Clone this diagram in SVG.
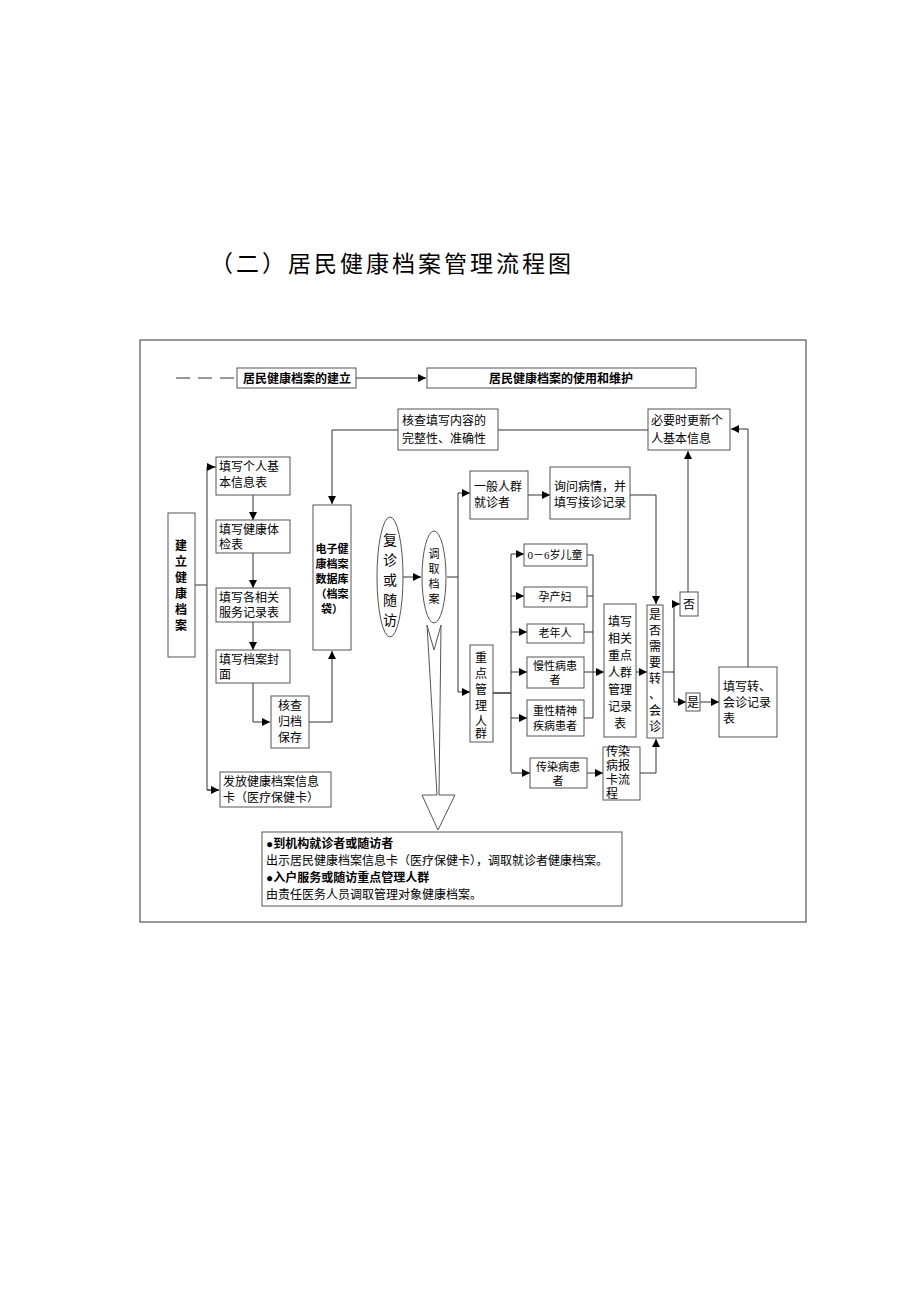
<svg xmlns="http://www.w3.org/2000/svg" width="920" height="1302" viewBox="0 0 920 1302">
<style>
text{font-family:"Liberation Serif","Noto Sans CJK SC",serif;font-size:12px;fill:#000}
.b{font-weight:bold;font-family:"Liberation Sans","Noto Sans CJK SC",sans-serif}
.s{font-size:11px}
rect,ellipse,polygon{fill:#fff;stroke:#555;stroke-width:1}
#c line,#c polyline{stroke:#333;stroke-width:1;fill:none}
</style>
<defs><marker id="a" markerWidth="8" markerHeight="8" refX="8" refY="4" orient="auto" markerUnits="userSpaceOnUse"><path d="M0,0L8,4L0,8Z" fill="#000"/></marker></defs>
<rect width="920" height="1302" style="fill:#fff;stroke:none"/>
<text x="210" y="272" style="font-size:23px;letter-spacing:3px">（二）居民健康档案管理流程图</text>
<rect x="140" y="340" width="666" height="582" style="stroke:#333"/>
<g id="c">
<line x1="176" y1="378" x2="236" y2="378" style="stroke-dasharray:14,8"/>
<line x1="356" y1="378" x2="426" y2="378" marker-end="url(#a)"/>
<polyline points="398,430 332,430 332,504" marker-end="url(#a)"/>
<line x1="498" y1="430" x2="648" y2="430"/>
<polyline points="748,667 748,429 731,429" marker-end="url(#a)"/>
<polyline points="195,585 207,585"/>
<polyline points="216,467 207,467 207,790 219,790"/>
<line x1="207" y1="467" x2="215" y2="467" marker-end="url(#a)"/>
<line x1="207" y1="790" x2="219" y2="790" marker-end="url(#a)"/>
<line x1="253" y1="495" x2="253" y2="520" marker-end="url(#a)"/>
<line x1="253" y1="553" x2="253" y2="588" marker-end="url(#a)"/>
<line x1="253" y1="622" x2="253" y2="650" marker-end="url(#a)"/>
<polyline points="253,683 253,722 270,722" marker-end="url(#a)"/>
<polyline points="309,722 332,722 332,651" marker-end="url(#a)"/>
<line x1="403" y1="577" x2="421" y2="577" marker-end="url(#a)"/>
<polyline points="447,577 458,577"/>
<polyline points="458,493 458,692"/>
<line x1="458" y1="493" x2="470" y2="493" marker-end="url(#a)"/>
<line x1="458" y1="692" x2="470" y2="692" marker-end="url(#a)"/>
<line x1="528" y1="495" x2="550" y2="495" marker-end="url(#a)"/>
<polyline points="630,495 656,495 656,604" marker-end="url(#a)"/>
<line x1="493" y1="693" x2="511" y2="693" style="stroke-width:1.5"/>
<line x1="511" y1="554" x2="511" y2="772"/>
<line x1="511" y1="554" x2="524" y2="554" marker-end="url(#a)"/>
<line x1="511" y1="596" x2="524" y2="596" marker-end="url(#a)"/>
<line x1="511" y1="632" x2="527" y2="632" marker-end="url(#a)"/>
<line x1="511" y1="672" x2="527" y2="672" marker-end="url(#a)"/>
<line x1="511" y1="718" x2="527" y2="718" marker-end="url(#a)"/>
<line x1="511" y1="773" x2="530" y2="773" marker-end="url(#a)"/>
<polyline points="587,555 593,555 593,718 584,718"/>
<line x1="587" y1="596" x2="593" y2="596"/>
<line x1="584" y1="632" x2="593" y2="632"/>
<line x1="584" y1="672" x2="604" y2="672" marker-end="url(#a)"/>
<line x1="636" y1="672" x2="647" y2="672" marker-end="url(#a)"/>
<line x1="587" y1="773" x2="603" y2="773" marker-end="url(#a)"/>
<polyline points="640,773 656,773 656,739" marker-end="url(#a)"/>
<polyline points="663,672 674,672"/>
<line x1="674" y1="604" x2="674" y2="702"/>
<line x1="674" y1="604" x2="680" y2="604" marker-end="url(#a)"/>
<line x1="674" y1="702" x2="686" y2="702" marker-end="url(#a)"/>
<polyline points="698,604 688,604 688,451" marker-end="url(#a)"/>
<line x1="700" y1="702" x2="719" y2="702" marker-end="url(#a)"/>
</g>
<g id="n1"><rect x="237" y="368" width="119" height="20"/><text x="243" y="383" class="b">居民健康档案的建立</text></g>
<g id="n2"><rect x="427" y="368" width="269" height="20"/><text x="561" y="383" class="b" text-anchor="middle">居民健康档案的使用和维护</text></g>
<g id="n3"><rect x="398" y="409" width="100" height="41"/><text x="402" y="425">核查填写内容的</text><text x="402" y="443">完整性、准确性</text></g>
<g id="n4"><rect x="648" y="409" width="82" height="41"/><text x="651" y="425">必要时更新个</text><text x="651" y="443">人基本信息</text></g>
<g id="n5"><rect x="168" y="513" width="27" height="144"/><text class="b" x="181" text-anchor="middle"><tspan x="181" y="550">建</tspan><tspan x="181" y="566">立</tspan><tspan x="181" y="582">健</tspan><tspan x="181" y="598">康</tspan><tspan x="181" y="614">档</tspan><tspan x="181" y="630">案</tspan></text></g>
<g id="n6"><rect x="216" y="457" width="74" height="38"/><text x="219" y="471">填写个人基</text><text x="219" y="487">本信息表</text></g>
<g id="n7"><rect x="216" y="520" width="74" height="33"/><text x="219" y="534">填写健康体</text><text x="219" y="549">检表</text></g>
<g id="n8"><rect x="216" y="588" width="74" height="34"/><text x="219" y="602">填写各相关</text><text x="219" y="617">服务记录表</text></g>
<g id="n9"><rect x="216" y="650" width="74" height="33"/><text x="219" y="664">填写档案封</text><text x="219" y="679">面</text></g>
<g id="n10"><rect x="271" y="696" width="38" height="52"/><text x="290" text-anchor="middle"><tspan x="290" y="710">核查</tspan><tspan x="290" y="726">归档</tspan><tspan x="290" y="742">保存</tspan></text></g>
<g id="n11"><rect x="220" y="772" width="111" height="35"/><text x="223" y="786">发放健康档案信息</text><text x="223" y="802">卡（医疗保健卡）</text></g>
<g id="n12"><rect x="313" y="505" width="38" height="145"/><text class="b s" x="332" text-anchor="middle"><tspan x="332" y="553">电子健</tspan><tspan x="332" y="568">康档案</tspan><tspan x="332" y="583">数据库</tspan><tspan x="332" y="598">（档案</tspan><tspan x="332" y="613">袋）</tspan></text></g>
<g id="n13"><ellipse cx="390" cy="577" rx="13" ry="60"/><text x="390" text-anchor="middle" style="font-size:14px"><tspan x="390" y="545">复</tspan><tspan x="390" y="565">诊</tspan><tspan x="390" y="585">或</tspan><tspan x="390" y="605">随</tspan><tspan x="390" y="625">访</tspan></text></g>
<g id="n14"><polygon points="427,625 434,650 441,625 439,795 455,795 438,830 422,795 437,795"/><ellipse cx="434" cy="577" rx="12" ry="46"/><text x="434" text-anchor="middle" class="s"><tspan x="434" y="558">调</tspan><tspan x="434" y="573">取</tspan><tspan x="434" y="588">档</tspan><tspan x="434" y="603">案</tspan></text></g>
<g id="n15"><rect x="470" y="471" width="58" height="48"/><text x="474" y="491">一般人群</text><text x="474" y="507">就诊者</text></g>
<g id="n16"><rect x="550" y="467" width="80" height="52"/><text x="554" y="491">询问病情，并</text><text x="554" y="507">填写接诊记录</text></g>
<g id="n17"><rect x="470" y="645" width="23" height="97"/><text x="481" text-anchor="middle"><tspan x="481" y="662">重</tspan><tspan x="481" y="678">点</tspan><tspan x="481" y="694">管</tspan><tspan x="481" y="710">理</tspan><tspan x="481" y="726">人</tspan><tspan x="481" y="742" dy="-4">群</tspan></text></g>
<g id="n18"><rect x="524" y="544" width="63" height="22"/><text x="555" y="559" class="s" text-anchor="middle">0－6岁儿童</text></g>
<g id="n19"><rect x="524" y="587" width="63" height="20"/><text x="555" y="601" class="s" text-anchor="middle">孕产妇</text></g>
<g id="n20"><rect x="527" y="624" width="57" height="19"/><text x="555" y="637" class="s" text-anchor="middle">老年人</text></g>
<g id="n21"><rect x="527" y="657" width="57" height="31"/><text x="555" y="670" class="s" text-anchor="middle">慢性病患</text><text x="555" y="684" class="s" text-anchor="middle">者</text></g>
<g id="n22"><rect x="527" y="700" width="57" height="36"/><text x="555" y="715" class="s" text-anchor="middle">重性精神</text><text x="555" y="730" class="s" text-anchor="middle">疾病患者</text></g>
<g id="n23"><rect x="530" y="758" width="57" height="30"/><text x="558" y="771" class="s" text-anchor="middle">传染病患</text><text x="558" y="785" class="s" text-anchor="middle">者</text></g>
<g id="n24"><rect x="604" y="604" width="32" height="133"/><text x="620" text-anchor="middle"><tspan x="620" y="626">填写</tspan><tspan x="620" y="643">相关</tspan><tspan x="620" y="660">重点</tspan><tspan x="620" y="677">人群</tspan><tspan x="620" y="694">管理</tspan><tspan x="620" y="711">记录</tspan><tspan x="620" y="728">表</tspan></text></g>
<g id="n25"><rect x="603" y="747" width="37" height="53"/><text x="606" y="756">传染</text><text x="606" y="770">病报</text><text x="606" y="784">卡流</text><text x="606" y="798">程</text></g>
<g id="n26"><rect x="647" y="605" width="16" height="133"/><text x="655" text-anchor="middle"><tspan x="655" y="619">是</tspan><tspan x="655" y="635">否</tspan><tspan x="655" y="651">需</tspan><tspan x="655" y="667">要</tspan><tspan x="655" y="683">转</tspan><tspan x="655" y="699">、</tspan><tspan x="655" y="715">会</tspan><tspan x="655" y="731">诊</tspan></text></g>
<g id="n27"><rect x="680" y="592" width="18" height="24"/><text x="689" y="609" text-anchor="middle">否</text></g>
<g id="n28"><rect x="686" y="693" width="14" height="18"/><text x="693" y="707" text-anchor="middle">是</text></g>
<g id="n29"><rect x="719" y="667" width="58" height="70"/><text x="723" y="691">填写转、</text><text x="723" y="707">会诊记录</text><text x="723" y="723">表</text></g>
<g id="n30"><rect x="262" y="832" width="360" height="74"/><text x="266" y="848" class="b">●到机构就诊者或随访者</text><text x="266" y="865">出示居民健康档案信息卡（医疗保健卡），调取就诊者健康档案。</text><text x="266" y="882" class="b">●入户服务或随访重点管理人群</text><text x="266" y="899">由责任医务人员调取管理对象健康档案。</text></g>
</svg>
